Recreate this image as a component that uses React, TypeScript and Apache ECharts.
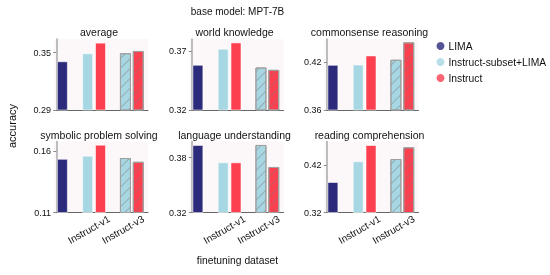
import React, { useEffect, useRef } from "react";
import * as echarts from "echarts";

const categories = ["LIMA", "Instruct-v1", "Instruct-v3"];
const seriesNames = ["LIMA", "Instruct-subset+LIMA", "Instruct"];
const panelTitles = [
  "average",
  "world knowledge",
  "commonsense reasoning",
  "symbolic problem solving",
  "language understanding",
  "reading comprehension",
];
const yTickLow = [0.29, 0.32, 0.36, 0.11, 0.32, 0.32];
const yTickHigh = [0.35, 0.37, 0.42, 0.16, 0.38, 0.42];
const yTop = [0.3643, 0.3806, 0.4489, 0.1675, 0.3978, 0.4695];

const limaValues = [0.341, 0.3586, 0.4166, 0.1535, 0.394, 0.3842];
const subsetV1Values = [0.3494, 0.3723, 0.417, 0.156, 0.375, 0.4278];
const instructV1Values = [0.3605, 0.3777, 0.4283, 0.1649, 0.375, 0.4621];
const subsetV3Values = [0.3494, 0.3563, 0.4229, 0.1541, 0.394, 0.4326];
const instructV3Values = [0.3518, 0.3543, 0.4447, 0.1511, 0.3699, 0.4573];

const COLORS = ["#2b2a7b", "#a7d7e3", "#fd404f"];
const FONT = "Liberation Sans, Arial, Helvetica, sans-serif";

export default function App() {
  const ref = useRef<HTMLDivElement>(null);
  useEffect(() => {
    if (!ref.current) return;
    const chart = echarts.init(ref.current, undefined, { renderer: "svg" });
    const colLefts = [54, 189.5, 324.5];
    const rowTops = [39, 141.5];
    const W = 94;
    const H = 71;
    const HALF = 0.17;
    const xMin = -0.062;
    const xMax = 2.428;
    const hatch = {
      symbol: "rect",
      symbolSize: 1,
      rotation: -Math.PI / 4,
      dashArrayX: [1, 0],
      dashArrayY: [1, 6],
      color: "rgba(120,120,120,0.45)",
    };
    const grids: any[] = [];
    const xAxes: any[] = [];
    const yAxes: any[] = [];
    const series: any[] = [];
    const graphics: any[] = [];
    for (let i = 0; i < 6; i++) {
      const row = Math.floor(i / 3);
      const col = i % 3;
      grids.push({
        left: colLefts[col],
        top: rowTops[row],
        width: W,
        height: H,
        show: true,
        backgroundColor: "#fcf8fa",
        borderWidth: 0,
      });
      xAxes.push({
        type: "value",
        gridIndex: i,
        min: xMin,
        max: xMax,
        splitLine: { show: false },
        axisTick: { show: false },
        axisLine: { show: true, onZero: false, lineStyle: { color: "#666", width: 1 } },
        axisLabel: {
          show: row === 1,
          customValues: [0.865, 1.766],
          formatter: (v: number) => categories[Math.round(v)],
          rotate: 30,
          align: "center",
          verticalAlign: "middle",
          margin: 17,
          fontSize: 10,
          fontFamily: FONT,
          color: "#111",
        },
      });
      yAxes.push({
        type: "value",
        gridIndex: i,
        min: yTickLow[i],
        max: yTop[i],
        splitLine: { show: false },
        axisLine: { show: true, lineStyle: { color: "#aaaaaa", width: 1.5 } },
        axisTick: {
          show: true,
          length: 3,
          customValues: [yTickLow[i], yTickHigh[i]],
          lineStyle: { color: "#888" },
        },
        axisLabel: {
          customValues: [yTickLow[i], yTickHigh[i]],
          formatter: (v: number) => v.toFixed(2),
          fontSize: 9,
          margin: 3,
          fontFamily: FONT,
          color: "#111",
        },
      });
      const solidBorder = { borderColor: "rgba(255,255,255,0.55)", borderWidth: 1 };
      series.push({
        type: "bar",
        xAxisIndex: i,
        yAxisIndex: i,
        barWidth: 11,
        silent: true,
        data: [
          { value: [0 + HALF - 0.01, limaValues[i]], itemStyle: { color: COLORS[0], ...solidBorder } },
          { value: [1 - HALF, subsetV1Values[i]], itemStyle: { color: COLORS[1], ...solidBorder } },
          { value: [1 + HALF, instructV1Values[i]], itemStyle: { color: COLORS[2], ...solidBorder } },
          {
            value: [2 - HALF, subsetV3Values[i]],
            itemStyle: { color: COLORS[1], decal: hatch, borderColor: "#a0a0a0", borderWidth: 1 },
          },
          {
            value: [2 + HALF, instructV3Values[i]],
            itemStyle: { color: COLORS[2], decal: hatch, borderColor: "#a0a0a0", borderWidth: 1 },
          },
        ],
      });
      graphics.push({
        type: "text",
        x: colLefts[col] + W / 2 - 2,
        y: rowTops[row] - 7,
        style: {
          text: panelTitles[i],
          align: "center",
          verticalAlign: "middle",
          fontSize: 10.5,
          fontFamily: FONT,
          fill: "#111",
        },
      });
    }
    seriesNames.forEach((name, k) => {
      series.push({
        type: "scatter",
        name,
        xAxisIndex: 0,
        yAxisIndex: 0,
        data: [],
        itemStyle: { color: COLORS[k] },
      });
    });
    graphics.push(
      {
        type: "text",
        x: 237.5,
        y: 11,
        style: { text: "base model: MPT-7B", align: "center", verticalAlign: "middle", fontSize: 10, fontFamily: FONT, fill: "#111" },
      },
      {
        type: "text",
        x: 12,
        y: 126,
        rotation: Math.PI / 2,
        style: { text: "accuracy", align: "center", verticalAlign: "middle", fontSize: 11, fontFamily: FONT, fill: "#111" },
      },
      {
        type: "text",
        x: 237.5,
        y: 260,
        style: { text: "finetuning dataset", align: "center", verticalAlign: "middle", fontSize: 10.3, fontFamily: FONT, fill: "#111" },
      }
    );
    chart.setOption({
      animation: false,
      grid: grids,
      xAxis: xAxes,
      yAxis: yAxes,
      series,
      legend: {
        orient: "vertical",
        left: 436.5,
        top: 41,
        padding: 0,
        icon: "circle",
        itemWidth: 8,
        itemHeight: 8,
        itemGap: 6,
        textStyle: { fontSize: 10.3, fontFamily: FONT, color: "#111", padding: [0, 0, 0, -1] },
        data: seriesNames,
      },
      graphic: graphics,
    });
    return () => chart.dispose();
  }, []);
  return (
    <div
      ref={ref}
      style={{ position: "fixed", left: 0, top: 0, width: 550, height: 275 }}
    />
  );
}
